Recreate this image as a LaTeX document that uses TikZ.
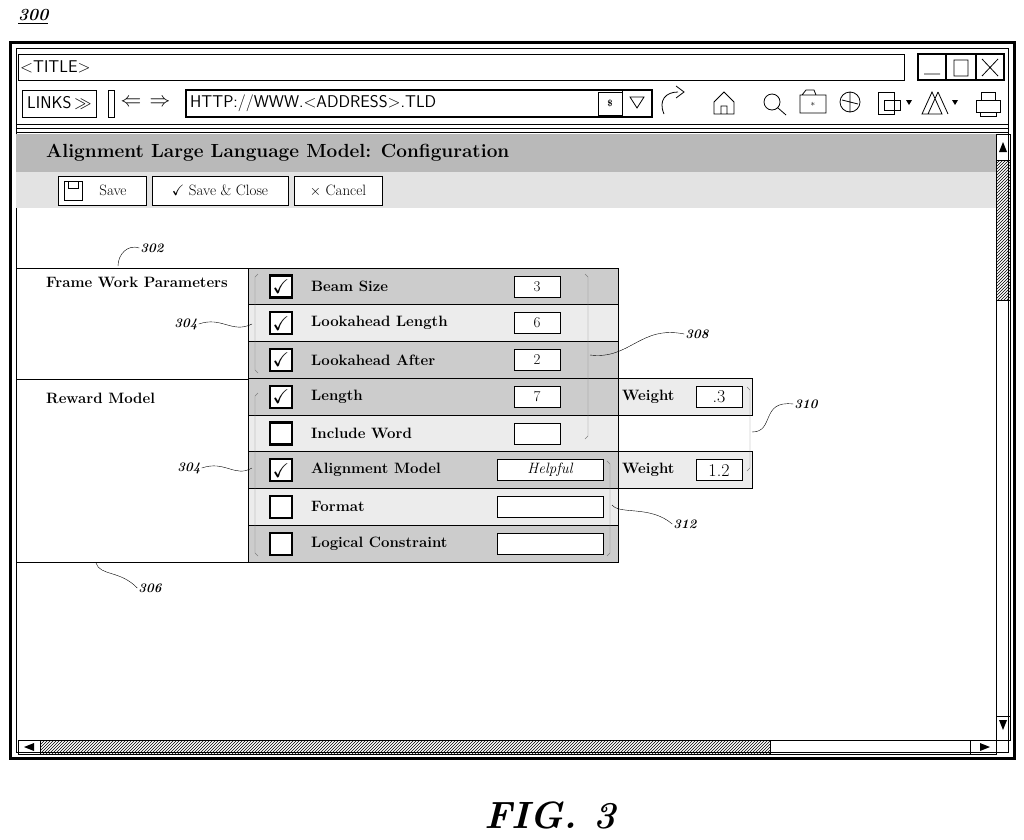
\documentclass[tikz,border=0pt]{standalone}
\usepackage{tikz}
\usepackage{amssymb}
\usetikzlibrary{positioning, patterns, arrows}
\newcommand{\lead}[2]{\draw[thin] (#1) .. controls +(0.35,0.9)*1 and +(-20,-12) .. (#2);}
\begin{document}
\begin{tikzpicture}[x=1pt,y=-1pt,
  lbl/.style={font=\fontsize{15}{18}\selectfont\bfseries, anchor=west, inner sep=0pt},
  ref/.style={font=\fontsize{13}{15}\selectfont\itshape\bfseries, inner sep=1pt},
  box/.style={draw, thick, fill=white},
  chk/.style={draw, line width=2.2pt, fill=white, minimum size=22pt, inner sep=0pt},
  brk/.style={gray, thin},
  btn/.style={draw, fill=white, font=\fontsize{15}{18}\selectfont, inner sep=0pt, minimum height=29pt},
  sans/.style={font=\sffamily\fontsize{17}{20}\selectfont}]
\useasboundingbox (0,0) rectangle (1024,839);
% figure number
\node[ref, font=\fontsize{17}{20}\selectfont\itshape\bfseries, anchor=west] (fig) at (17,17) {\underline{300}};
% window frame
\draw[line width=3pt] (10,42) rectangle (1014,758);
\draw[thick] (16,48) rectangle (1008,752);
\draw[thick] (18,54) rectangle (904,80);
\node[sans, anchor=west, inner sep=0pt] (title) at (20,67) {<TITLE>};
\draw[line width=2pt] (918,54) rectangle (946,80) (946,54) rectangle (976,80) (976,54) rectangle (1004,80);
\draw[thick] (924,74) -- (940,74) (954,60) rectangle (968,76) (982,59) -- (998,76) (998,59) -- (982,76);
% address row
\draw[thick] (22,90) rectangle (96,117);
\node[sans, anchor=west, inner sep=0pt] (links) at (27,103) {LINKS\,$\gg$};
\draw[thick] (108,90) rectangle (114,117);
\node[font=\fontsize{20}{20}\selectfont] (back) at (131,103) {$\Leftarrow$};
\node[font=\fontsize{20}{20}\selectfont] (fwd) at (160,103) {$\Rightarrow$};
\draw[line width=2pt] (186,90) rectangle (652,117);
\node[sans, anchor=west, inner sep=0pt] (addr) at (190,103) {HTTP://WWW.<ADDRESS>.TLD};
\draw[thick] (598,92) rectangle (622,115) (622,90) -- (622,117);
\node[font=\bfseries\small] at (610,103) {\$};
\draw[thick] (630,97) -- (644,97) -- (637,108) -- cycle;
\draw[thick] (664,114) .. controls (658,100) and (666,92) .. (678,92);
\draw[thick] (676,86) -- (684,92) -- (676,98);
% toolbar icons
\draw[thick] (714,114) -- (714,102) -- (724,92) -- (734,102) -- (734,114) -- cycle (721,114) rectangle (727,106);
\draw[thick] (772,102) circle (8pt) (778,108) -- (786,115);
\draw[thick] (800,95) rectangle (826,113) (802,95) -- (806,90) -- (814,90) -- (816,95);
\node[font=\small\bfseries] at (813,104) {$\ast$};
\draw[thick] (850,102) circle (10pt) (842,100) -- (858,104) (850,92) -- (850,112);
\draw[thick] (878,92) rectangle (894,114) (884,100) -- (900,100) -- (900,110) -- (884,110) -- cycle;
\fill (906,100) -- (912,100) -- (909,105) -- cycle;
\draw[thick] (932,92) -- (922,114) -- (942,114) -- cycle (938,92) -- (928,114) (938,92) -- (948,114);
\fill (952,100) -- (958,100) -- (955,105) -- cycle;
\draw[thick] (976,100) rectangle (1000,112) (981,92) rectangle (995,100) (980,112) rectangle (996,116);
\draw[thick] (16,124) -- (1008,124) (16,128) -- (1008,128);
% content
\fill[gray!55] (16,134) rectangle (996,172);
\fill[gray!22] (16,172) rectangle (996,208);
\draw (16,132) -- (1008,132);
\node[font=\fontsize{19}{22}\selectfont\bfseries, anchor=west, inner sep=0pt] (head) at (46,153) {Alignment Large Language Model: Configuration};
\node[btn, minimum width=88pt] (save) at (102,190.5) {\hspace*{22pt}Save};
\draw (64,181) rectangle (82,200) (68,181) rectangle (78,188);
\node[btn, minimum width=136pt] (saveclose) at (220,190.5) {$\checkmark$ Save \& Close};
\node[btn, minimum width=88pt] (cancel) at (338,190.5) {$\times$ Cancel};
% scroll bars
\draw[thick] (996,134) rectangle (1010,740);
\draw (996,160) -- (1010,160) (996,716) -- (1010,716);
\fill (1003,142) -- (999,152) -- (1007,152) -- cycle;
\fill (1003,730) -- (999,720) -- (1007,720) -- cycle;
\draw[pattern=north east lines] (996,160) rectangle (1010,300);
\draw[thick] (18,740) rectangle (996,754);
\draw (40,740) -- (40,754) (970,740) -- (970,754);
\fill (24,747) -- (34,743) -- (34,751) -- cycle;
\fill (990,747) -- (980,743) -- (980,751) -- cycle;
\draw[pattern=north east lines] (40,740) rectangle (770,754);
% left table
\draw[thick] (16,268) -- (248,268) (16,379) -- (248,379) (16,562) -- (248,562) (248,268) -- (248,562);
\node[lbl] (fwp) at (46,282) {Frame Work Parameters};
\node[lbl] (rm) at (46,398) {Reward Model};
% rows
\foreach \i/\txt/\c/\sh in {0/Beam Size/1/40,1/Lookahead Length/1/15,2/Lookahead After/1/40,3/Length/1/40,4/Include Word/0/15,5/Alignment Model/1/40,6/Format/0/15,7/Logical Constraint/0/40} {
  \pgfmathsetmacro{\yt}{268+36.75*\i}
  \fill[gray!\sh] (248,\yt) rectangle (618,\yt+36.75);
  \draw[thick] (248,\yt) rectangle (618,\yt+36.75);
  \node[chk] (c\i) at (281,\yt+18.4) {\ifnum\c=1\fontsize{20}{20}\selectfont$\checkmark$\fi};
  \node[lbl] (t\i) at (311,\yt+18.4) {\txt};
}
\foreach \i/\v in {0/3,1/6,2/2,3/7,4/{}} {
  \pgfmathsetmacro{\yt}{268+36.75*\i}
  \node[box, minimum width=46pt, minimum height=21pt, inner sep=0pt, font=\fontsize{15}{18}\selectfont] (v\i) at (537,\yt+18.4) {\v};
}
\foreach \i/\v in {5/Helpful,6/{},7/{}} {
  \pgfmathsetmacro{\yt}{268+36.75*\i}
  \node[box, minimum width=106pt, minimum height=21pt, inner sep=0pt, font=\fontsize{15}{18}\selectfont\itshape] (v\i) at (550,\yt+18.4) {\v};
}
% weights
\foreach \i/\w in {3/.3,5/1.2} {
  \pgfmathsetmacro{\yt}{268+36.75*\i}
  \fill[gray!15] (618,\yt) rectangle (752,\yt+36.75);
  \draw[thick] (618,\yt) rectangle (752,\yt+36.75);
  \node[lbl] (w\i) at (622,\yt+18.4) {Weight};
  \node[box, minimum width=46pt, minimum height=21pt, inner sep=0pt, font=\fontsize{18}{18}\selectfont] (wv\i) at (719,\yt+18.4) {\w};
}
% brackets
\draw[brk] (258,274) -- (255,277) -- (255,370) -- (258,373);
\draw[brk] (258,393) -- (255,396) -- (255,553) -- (258,556);
\draw[brk] (585,274) -- (588,277) -- (588,436) -- (585,439);
\draw[brk] (607,461) -- (610,464) -- (610,553) -- (607,556);
\draw[brk] (747,387) -- (750,390) -- (750,468) -- (747,471);
% reference labels
\node[ref] (r302) at (152,248) {302};
\node[ref] (r304a) at (186,324) {304};
\node[ref] (r304b) at (189,468) {304};
\node[ref] (r306) at (150,588) {306};
\node[ref] (r308) at (697,334) {308};
\node[ref] (r310) at (806,404) {310};
\node[ref] (r312) at (685,524) {312};
\coordinate (a302) at (118,266);
\coordinate (a304a) at (252,324);
\coordinate (a304b) at (252,468);
\coordinate (a306) at (96,563);
\coordinate (a308) at (590,355);
\coordinate (a310) at (752,432);
\coordinate (a312) at (612,505);
\draw (r302.west) .. controls (128,244) and (118,254) .. (a302);
\draw (r304a.east) .. controls (222,316) and (232,334) .. (a304a);
\draw (r304b.east) .. controls (225,460) and (235,478) .. (a304b);
\draw (a306) .. controls (100,576) and (120,570) .. (r306.west);
\draw (a308) .. controls (630,360) and (640,325) .. (r308.west);
\draw (a310) .. controls (775,432) and (760,400) .. (r310.west);
\draw (a312) .. controls (620,515) and (650,505) .. (r312.west);
% caption
\node[font=\fontsize{38}{40}\selectfont\itshape\bfseries] (cap) at (550,815) {FIG. 3};
\end{tikzpicture}
\end{document}
